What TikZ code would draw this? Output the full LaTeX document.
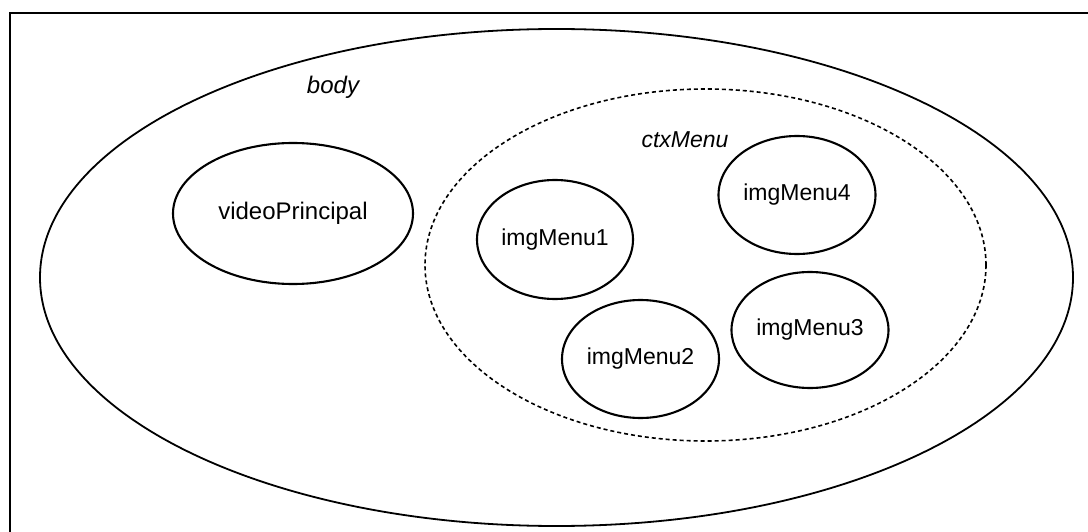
\documentclass[tikz,border=0pt]{standalone}
\usepackage{fontspec}
\setmainfont{Liberation Sans}
\usetikzlibrary{shapes.geometric}
\begin{document}
\begin{tikzpicture}[x=1pt,y=-1pt,
  region/.style={ellipse, draw, line width=1.8pt, inner sep=0pt},
  element/.style={ellipse, draw, line width=2.1pt, inner sep=0pt,
    minimum width=157pt, minimum height=118pt, font=\fontsize{23}{27}\selectfont},
  container/.style={ellipse, draw, line width=1.6pt, dash pattern=on 4pt off 3pt, inner sep=0pt},
  caption/.style={font=\fontsize{24}{28}\selectfont\itshape, inner sep=0pt}]
  \useasboundingbox (0,0) rectangle (1088,532);
  % frame edges
  \draw[line width=2pt] (1088,12.7) -- (10,12.7) -- (10,532);
  % outer body region
  \node[region, minimum width=1033pt, minimum height=497pt] (body) at (556.5,277.5) {};
  \node[caption] (bodylabel) at (333,87) {body};
  % video element
  \node[element, minimum width=240pt, minimum height=141pt,
        font=\fontsize{24}{28}\selectfont] (video) at (293,213.5) {videoPrincipal};
  % context menu container
  \node[container, minimum width=561pt, minimum height=352pt] (ctx) at (705.5,265) {};
  \node[caption, font=\fontsize{23}{27}\selectfont\itshape] (ctxlabel) at (685,140) {ctxMenu};
  % menu images
  \node[element, minimum width=156pt, minimum height=119pt] (m1) at (555,239.5) {imgMenu1};
  \node[element] (m2) at (640.5,359) {imgMenu2};
  \node[element, minimum height=116pt] (m3) at (810,330) {imgMenu3};
  \node[element] (m4) at (797,195) {imgMenu4};
\end{tikzpicture}
\end{document}
